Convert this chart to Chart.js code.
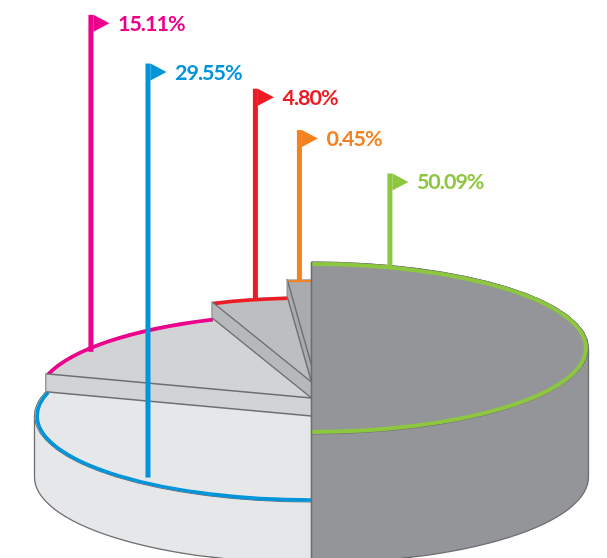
<!DOCTYPE html>
<html>
<head>
<meta charset="utf-8">
<style>
  html, body { margin: 0; padding: 0; background: #fff; }
  #wrap { width: 607px; height: 558px; }
</style>
<script src="https://cdn.jsdelivr.net/npm/chart.js@4"></script>
</head>
<body>
<div id="wrap"><canvas id="myChart" width="607" height="558"></canvas></div>
<script>
const valueLabels = ['50.09%', '29.55%', '15.11%', '4.80%', '0.45%'];
// share of the circle each slice really takes up in the picture (the small ones are not drawn to their printed size)
const sliceShares = [50, 29.55, 14.6, 4.45, 1.4];
const lineColors = ['#8dc63f', '#0095da', '#ec008c', '#ed1c24', '#f58220'];
const topColors = ['#939598', '#e6e7e8', '#d1d3d4', '#bcbec0', '#a9abae'];
const wallColors = ['#939598', '#e6e7e8', '#d1d3d4', '#b6b8bb', '#a9abae'];

// top surface height of each step, pixels on the canvas
const stepLevels = [348, 416, 398, 382, 365];
const baseLevel = 477;
const tilt = 0.3105;
const edgeGrey = '#6d6e71';

// where the flag pole stands along its slice, how tall it is, how far it stops short of the rim
const flagAlong = [0.092, 0.343, 0.386, 0.58, 0.5];
const poleHeights = [94, 414, 337, 211, 151];
const poleGaps = [0, 6, -4, 0, 0];

const pie3d = {
  id: 'pie3d',
  beforeDatasetsDraw(chart) {
    const ctx = chart.ctx;
    const arcs = chart.getDatasetMeta(0).data;
    const cx = arcs[0].x;
    const r = arcs[0].outerRadius;
    const ry = r * tilt;

    function rimPoint(angle, level) {
      return { x: cx + r * Math.cos(angle), y: level + ry * Math.sin(angle) };
    }

    function drawWall(arc, i) {
      const level = stepLevels[i];
      ctx.lineJoin = 'round';
      if (i < 2) {
        // outer wall of the two tall slices, front half only
        const a0 = Math.max(arc.startAngle, 0);
        const a1 = Math.min(arc.endAngle, Math.PI);
        ctx.beginPath();
        ctx.ellipse(cx, level, r, ry, 0, a0, a1);
        ctx.ellipse(cx, baseLevel, r, ry, 0, a1, a0, true);
        ctx.closePath();
        ctx.fillStyle = wallColors[i];
        ctx.fill();
        ctx.beginPath();
        ctx.ellipse(cx, baseLevel, r, ry, 0, a0, a1);
        ctx.strokeStyle = edgeGrey;
        ctx.lineWidth = 1.3;
        ctx.stroke();
        const side = i === 0 ? 0 : Math.PI;
        const p = rimPoint(side, level);
        ctx.beginPath();
        ctx.moveTo(p.x, p.y);
        ctx.lineTo(p.x, baseLevel);
        ctx.stroke();
        return;
      }
      // step face along the front edge of the slice, down to the slice before it
      const lower = stepLevels[i - 1];
      const up = rimPoint(arc.startAngle, level);
      const down = rimPoint(arc.startAngle, lower);
      ctx.beginPath();
      ctx.moveTo(up.x, up.y);
      ctx.lineTo(cx, level);
      ctx.lineTo(cx, lower);
      ctx.lineTo(down.x, down.y);
      ctx.closePath();
      ctx.fillStyle = wallColors[i];
      ctx.fill();
      ctx.strokeStyle = edgeGrey;
      ctx.lineWidth = 1.4;
      ctx.beginPath();
      ctx.moveTo(up.x, up.y);
      ctx.lineTo(cx, level);
      ctx.moveTo(down.x, down.y);
      ctx.lineTo(cx, lower);
      ctx.stroke();
      ctx.strokeStyle = '#939598';
      ctx.beginPath();
      ctx.moveTo(up.x, up.y);
      ctx.lineTo(down.x, down.y);
      ctx.stroke();
    }

    function drawTop(arc, i) {
      const level = stepLevels[i];
      ctx.beginPath();
      ctx.moveTo(cx, level);
      ctx.ellipse(cx, level, r, ry, 0, arc.startAngle, arc.endAngle);
      ctx.closePath();
      ctx.fillStyle = topColors[i];
      ctx.fill();
      if (i < 2) {
        ctx.beginPath();
        ctx.ellipse(cx, level, r, ry, 0, arc.startAngle, arc.endAngle);
        ctx.strokeStyle = edgeGrey;
        ctx.lineWidth = 1;
        ctx.stroke();
      }
      ctx.beginPath();
      ctx.ellipse(cx, level, r - 2.6, ry - 2, 0, arc.startAngle, arc.endAngle);
      ctx.strokeStyle = lineColors[i];
      ctx.lineWidth = i === 4 ? 2 : (i === 0 ? 4 : 3.6);
      ctx.stroke();
    }

    // back to front: lowest steps first, the big grey half last
    [1, 2, 3, 4, 0].forEach(i => {
      drawTop(arcs[i], i);
      drawWall(arcs[i], i);
      if (i < 2) {
        // the wall must not cover the rim line
        drawTop(arcs[i], i);
      }
    });

    // hard left edge of the grey half
    ctx.beginPath();
    ctx.moveTo(cx, stepLevels[0] - ry);
    ctx.lineTo(cx, baseLevel + ry);
    ctx.strokeStyle = edgeGrey;
    ctx.lineWidth = 1.6;
    ctx.stroke();

    arcs.forEach((arc, i) => drawFlag(arc, i));

    function drawFlag(arc, i) {
      const angle = arc.startAngle + (arc.endAngle - arc.startAngle) * flagAlong[i];
      const x = cx + (r - 2) * Math.cos(angle);
      const foot = stepLevels[i] + (ry - 2) * Math.sin(angle) - poleGaps[i];
      const top = foot - poleHeights[i];
      ctx.fillStyle = lineColors[i];
      ctx.fillRect(x - 2.5, top, 5, poleHeights[i]);
      ctx.beginPath();
      ctx.moveTo(x + 2.5, top);
      ctx.lineTo(x + 18.5, top + 8.5);
      ctx.lineTo(x + 2.5, top + 17);
      ctx.closePath();
      ctx.fill();
      ctx.font = 'bold 21.5px Lato';
      ctx.letterSpacing = '-1px';
      ctx.textAlign = 'left';
      ctx.textBaseline = 'alphabetic';
      ctx.fillText(valueLabels[i], x + 27, top + 16);
      ctx.letterSpacing = '0px';
    }

    return false; // slices are drawn above, skip the flat pie
  }
};

const ctx = document.getElementById('myChart').getContext('2d');
const chart = new Chart(ctx, {
  type: 'pie',
  data: {
    labels: valueLabels,
    datasets: [{
      data: sliceShares,
      backgroundColor: topColors,
      borderWidth: 0
    }]
  },
  options: {
    responsive: false,
    animation: false,
    layout: { padding: { left: 16, right: 0, top: 2, bottom: 2 } },
    plugins: { legend: { display: false }, tooltip: { enabled: false } }
  },
  plugins: [pie3d]
});
</script>
</body>
</html>
